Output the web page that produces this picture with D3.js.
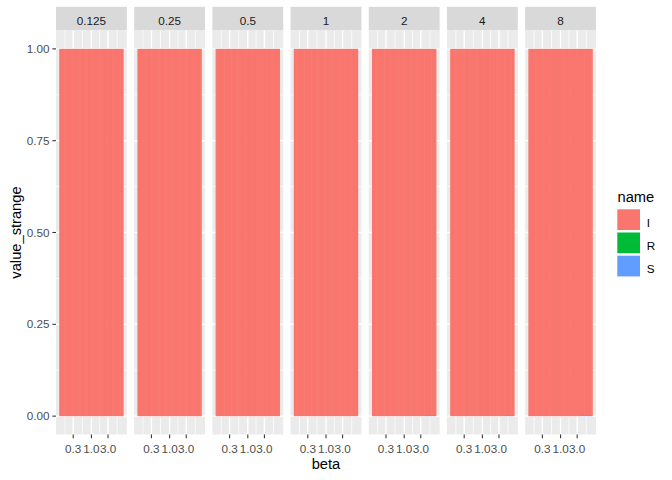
<!DOCTYPE html>
<html>
<head>
<meta charset="utf-8">
<script src="https://cdn.jsdelivr.net/npm/d3@7"></script>
<style>
  html, body { margin: 0; padding: 0; background: #ffffff; }
  svg { display: block; font-family: "Liberation Sans", Arial, sans-serif; }
</style>
</head>
<body>
<svg id="chart" width="672" height="480"></svg>
<script>
// ---- data ----
const panels = ["0.125", "0.25", "0.5", "1", "2", "4", "8"];
const beta = [0.125, 0.140, 0.157, 0.177, 0.198, 0.223, 0.25, 0.281, 0.315, 0.354,
              0.397, 0.445, 0.5, 0.561, 0.63, 0.707, 0.794, 0.891, 1, 1.12,
              1.26, 1.41, 1.59, 1.78, 2, 2.24, 2.52, 2.83, 3.17, 3.56,
              4, 4.49, 5.04, 5.66, 6.35, 7.13, 8];
const names = ["I", "R", "S"];
const colors = ["#F8766D", "#00BA38", "#619CFF"];
// share of S in the last bars of some panels (tiny blue slivers)
const sValue = [0, 0, 0, 0, 0.003, 0.003, 0.003];
const sFromBeta = [Infinity, Infinity, Infinity, Infinity, 4, 4.49, 4];
const rValue = [0, 0, 0, 0, 0, 0, 0];
const xMajor = [0.3, 1, 3];
const xMajorLabels = ["0.3", "1.0", "3.0"];
const xMinor = [0.173, 0.548, 1.73, 5.48];
const yMajor = [0, 0.25, 0.5, 0.75, 1];
const yMajorLabels = ["0.00", "0.25", "0.50", "0.75", "1.00"];
const yMinor = [0.125, 0.375, 0.625, 0.875];

// ---- layout ----
const svg = d3.select("#chart");
const plotL = 56, plotR = 596, spacing = 7.33;
const panelTop = 30.5, panelBot = 434.5, stripTop = 6.8;
const nP = panels.length;
const pw = (plotR - plotL - spacing * (nP - 1)) / nP;

const color = d3.scaleOrdinal().domain(names).range(colors);

// log-space bar width (0.9 of spacing) and expanded domain
const L = beta.map(b => Math.log10(b));
const step = (L[L.length - 1] - L[0]) / (L.length - 1);
const half = 0.45 * step;
const lo = L[0] - half, hi = L[L.length - 1] + half;
const ex = (hi - lo) * 0.05;
const xDomain = [Math.pow(10, lo - ex), Math.pow(10, hi + ex)];

const y = d3.scaleLinear().domain([-0.05, 1.05]).range([panelBot, panelTop]);

panels.forEach((p, pi) => {
  const x0 = plotL + pi * (pw + spacing);
  const x = d3.scaleLog().domain(xDomain).range([x0, x0 + pw]);
  const g = svg.append("g");

  // strip
  g.append("rect").attr("x", x0).attr("y", stripTop).attr("width", pw)
    .attr("height", panelTop - stripTop).attr("fill", "#D9D9D9");
  g.append("text").attr("x", x0 + pw / 2).attr("y", 25).attr("text-anchor", "middle")
    .attr("font-size", "11.7px").attr("fill", "#1A1A1A").text(p);

  // panel background
  g.append("rect").attr("x", x0).attr("y", panelTop).attr("width", pw)
    .attr("height", panelBot - panelTop).attr("fill", "#EBEBEB");

  // grid
  g.selectAll(".ymin").data(yMinor).join("line")
    .attr("x1", x0).attr("x2", x0 + pw).attr("y1", d => y(d)).attr("y2", d => y(d))
    .attr("stroke", "#ffffff").attr("stroke-width", 0.71);
  g.selectAll(".xmin").data(xMinor).join("line")
    .attr("x1", d => x(d)).attr("x2", d => x(d)).attr("y1", panelTop).attr("y2", panelBot)
    .attr("stroke", "#ffffff").attr("stroke-width", 0.71);
  g.selectAll(".ymaj").data(yMajor).join("line")
    .attr("x1", x0).attr("x2", x0 + pw).attr("y1", d => y(d)).attr("y2", d => y(d))
    .attr("stroke", "#ffffff").attr("stroke-width", 1.42);
  g.selectAll(".xmaj").data(xMajor).join("line")
    .attr("x1", d => x(d)).attr("x2", d => x(d)).attr("y1", panelTop).attr("y2", panelBot)
    .attr("stroke", "#ffffff").attr("stroke-width", 1.42);

  // data rows for this panel
  const rows = beta.map((b, i) => {
    const s = b >= sFromBeta[pi] - 1e-9 ? sValue[pi] : 0;
    const r = rValue[pi];
    return { beta: b, i: i, S: s, R: r, I: 1 - s - r };
  });
  const stack = d3.stack().keys(["S", "R", "I"])(rows);

  const edgeL = d => {
    const c = Math.log10(d.data.beta);
    return x(Math.pow(10, d.data.i === 0 ? c - half : c - step / 2));
  };
  const edgeR = d => {
    const c = Math.log10(d.data.beta);
    return x(Math.pow(10, d.data.i === beta.length - 1 ? c + half : c + step / 2));
  };

  stack.forEach(layer => {
    g.selectAll(null).data(layer.filter(d => d[1] - d[0] > 0)).join("rect")
      .attr("x", d => edgeL(d))
      .attr("width", d => edgeR(d) - edgeL(d) + (d.data.i === beta.length - 1 ? 0 : 0.6))
      .attr("y", d => y(d[1]))
      .attr("height", d => Math.max(1, y(d[0]) - y(d[1])))
      .attr("fill", color(layer.key));
  });

  // x axis ticks and labels
  g.selectAll(".xt").data(xMajor).join("line")
    .attr("x1", d => x(d)).attr("x2", d => x(d)).attr("y1", panelBot).attr("y2", panelBot + 3.67)
    .attr("stroke", "#333333").attr("stroke-width", 1.07);
  g.selectAll(".xl").data(xMajor).join("text")
    .attr("x", d => x(d)).attr("y", 453).attr("text-anchor", "middle")
    .attr("font-size", "11.7px").attr("fill", "#4D4D4D")
    .text((d, i) => xMajorLabels[i]);
});

// y axis
const ya = svg.append("g");
ya.selectAll("line").data(yMajor).join("line")
  .attr("x1", plotL - 3.67).attr("x2", plotL).attr("y1", d => y(d)).attr("y2", d => y(d))
  .attr("stroke", "#333333").attr("stroke-width", 1.07);
ya.selectAll("text").data(yMajor).join("text")
  .attr("x", plotL - 6.6).attr("y", d => y(d) + 4.1).attr("text-anchor", "end")
  .attr("font-size", "11.7px").attr("fill", "#4D4D4D")
  .text((d, i) => yMajorLabels[i]);

// axis titles
svg.append("text").attr("x", (plotL + plotR) / 2).attr("y", 469).attr("text-anchor", "middle")
  .attr("font-size", "14.7px").attr("fill", "#000000").text("beta");
svg.append("text").attr("transform", `translate(20.5,${(panelTop + panelBot) / 2}) rotate(-90)`)
  .attr("text-anchor", "middle").attr("font-size", "14.7px").attr("fill", "#000000").text("value_strange");

// legend
const lg = svg.append("g");
lg.append("text").attr("x", 617.5).attr("y", 201.7).attr("font-size", "14.7px")
  .attr("fill", "#000000").text("name");
names.forEach((n, i) => {
  const top = 209.3 + i * 23.2;
  lg.append("rect").attr("x", 617.3).attr("y", top).attr("width", 22.7).attr("height", 20.7)
    .attr("fill", color(n));
  lg.append("text").attr("x", 646.7).attr("y", top + 17.2).attr("font-size", "11.7px")
    .attr("fill", "#000000").text(n);
});
</script>
</body>
</html>
